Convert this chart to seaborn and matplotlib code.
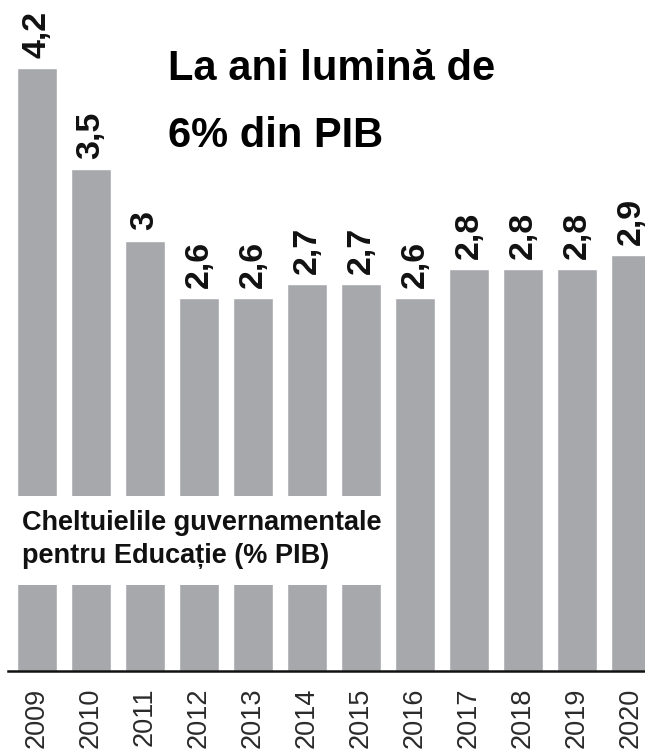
import matplotlib
matplotlib.use("Agg")
import matplotlib.pyplot as plt
import seaborn as sns
import pandas as pd
from matplotlib.patches import Rectangle

# Data
years = ["2009", "2010", "2011", "2012", "2013", "2014",
         "2015", "2016", "2017", "2018", "2019", "2020"]
values = [4.2, 3.5, 3.0, 2.6, 2.6, 2.7, 2.7, 2.6, 2.8, 2.8, 2.8, 2.9]
title_lines = ["La ani lumină de", "6% din PIB"]
note_lines = ["Cheltuielile guvernamentale", "pentru Educație (% PIB)"]

BAR_COLOR = "#a7a8ac"
W, H = 645, 751

sns.set_style("white")
plt.rcParams["font.family"] = ["Liberation Sans", "DejaVu Sans"]

df = pd.DataFrame({"year": years, "value": values})

fig = plt.figure(figsize=(W / 100, H / 100), dpi=100)
ax = fig.add_axes([8 / W, (H - 671) / H, 1 - 8 / W, 671 / H])

sns.barplot(data=df, x="year", y="value", color=BAR_COLOR, saturation=1,
            width=0.74, ax=ax)

ax.set_xlim(-0.537, 11.26)
ax.set_ylim(0, 4.676)
ax.set_xlabel("")
ax.set_ylabel("")
ax.set_yticks([])
for s in ["top", "right", "left"]:
    ax.spines[s].set_visible(False)
ax.spines["bottom"].set_linewidth(1.8)
ax.spines["bottom"].set_color("#111111")
ax.tick_params(axis="x", length=0, pad=12, labelsize=19.5, labelcolor="#2a2a2a",
               rotation=90)

# value labels
for i, v in enumerate(values):
    ax.text(i, v + 0.07, f"{v:g}".replace(".", ","), rotation=90,
            ha="center", va="bottom", fontsize=24.5, fontweight="bold",
            color="#111111")

# white note box over the bars
ax.add_patch(Rectangle((-1, 0.6), 7.5, 0.62, facecolor="white",
                       edgecolor="none", zorder=5))
fig.text(22 / W, (H - 530) / H, note_lines[0], ha="left", va="baseline",
         fontsize=19.5, fontweight="bold", color="#111111", zorder=6)
fig.text(22 / W, (H - 563) / H, note_lines[1], ha="left", va="baseline",
         fontsize=19.5, fontweight="bold", color="#111111", zorder=6)

# title
fig.text(168 / W, (H - 80) / H, title_lines[0], ha="left", va="baseline",
         fontsize=30, fontweight="bold", color="#000000")
fig.text(168 / W, (H - 147) / H, title_lines[1], ha="left", va="baseline",
         fontsize=30, fontweight="bold", color="#000000")

fig.savefig("out.png", dpi=100, facecolor="white")
